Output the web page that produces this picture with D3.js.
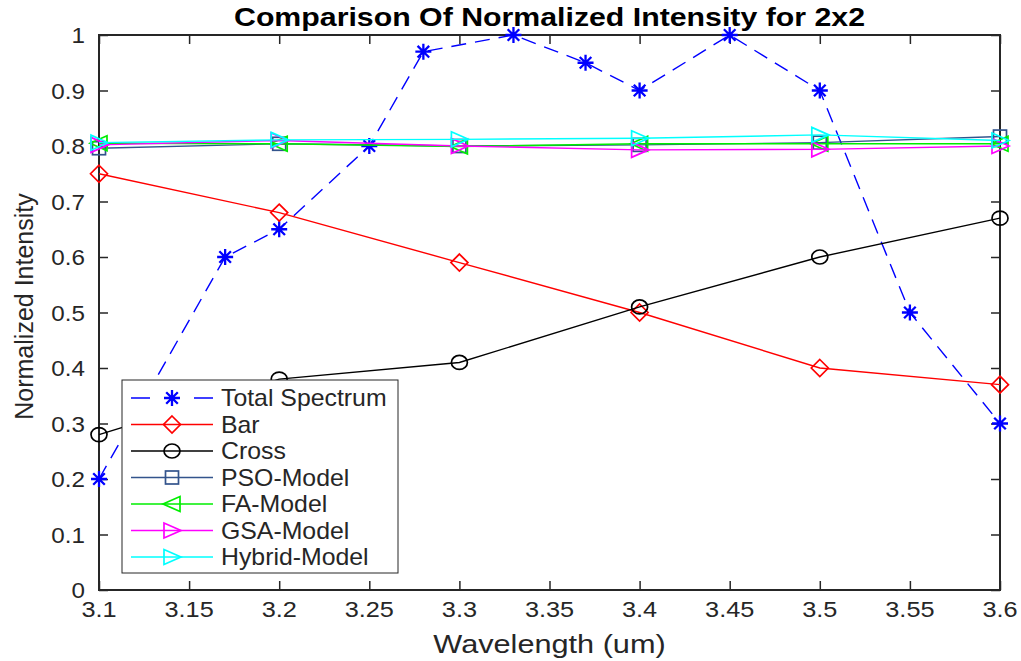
<!DOCTYPE html>
<html><head><meta charset="utf-8">
<script src="https://cdn.jsdelivr.net/npm/d3@7"></script>
<style>
body{margin:0;background:#fff;}
text{font-family:"Liberation Sans",Arial,Helvetica,sans-serif;fill:#262626;}
</style></head>
<body><svg id="c" width="1021" height="661"></svg>
<script>
// ---- data ----
const title = "Comparison Of Normalized Intensity for 2x2";
const xLabel = "Wavelength (um)";
const yLabel = "Normalized Intensity";
const xTicks = [3.1,3.15,3.2,3.25,3.3,3.35,3.4,3.45,3.5,3.55,3.6];
const yTicks = [0,0.1,0.2,0.3,0.4,0.5,0.6,0.7,0.8,0.9,1];
const totalX = [3.1,3.17,3.2,3.25,3.28,3.33,3.37,3.4,3.45,3.5,3.55,3.6];
const totalY = [0.2,0.6,0.65,0.8,0.97,1.0,0.95,0.9,1.0,0.9,0.5,0.3];
const modelX = [3.1,3.2,3.3,3.4,3.5,3.6];
const barY = [0.75,0.68,0.59,0.50,0.40,0.37];
const crossY = [0.28,0.38,0.41,0.51,0.60,0.67];
const psoY = [0.796,0.804,0.80,0.802,0.806,0.817];
const faY = [0.805,0.804,0.799,0.804,0.804,0.804];
const gsaY = [0.802,0.81,0.80,0.793,0.794,0.80];
const hybridY = [0.806,0.811,0.812,0.814,0.82,0.81];
const seriesNames = ["Total Spectrum","Bar","Cross","PSO-Model","FA-Model","GSA-Model","Hybrid-Model"];

// ---- layout ----
const L=99,R=1000,T=35,B=590;
const svg=d3.select("#c");
const x=d3.scaleLinear().domain([3.1,3.6]).range([L,R]);
const y=d3.scaleLinear().domain([0,1]).range([B,T]);
const axisCol="#262626";

const series=[
 {name:seriesNames[0],xs:totalX,ys:totalY,color:"#0000ff",marker:"star",dash:"15,9"},
 {name:seriesNames[1],xs:modelX,ys:barY,color:"#ff0000",marker:"diamond"},
 {name:seriesNames[2],xs:modelX,ys:crossY,color:"#000000",marker:"circle"},
 {name:seriesNames[3],xs:modelX,ys:psoY,color:"#33548c",marker:"square"},
 {name:seriesNames[4],xs:modelX,ys:faY,color:"#00ee00",marker:"left"},
 {name:seriesNames[5],xs:modelX,ys:gsaY,color:"#ff00ff",marker:"right"},
 {name:seriesNames[6],xs:modelX,ys:hybridY,color:"#00ffff",marker:"right"}
];

// stretched text helper (reference text is horizontally widened)
function stext(g,str,tx,ty,size,anchor,sx,opts={}){
  const t=g.append("text").attr("transform",`translate(${tx},${ty})${opts.rot?` rotate(${opts.rot})`:""} scale(${sx},1)`)
    .attr("text-anchor",anchor).attr("font-size",size).text(str);
  if(opts.bold) t.attr("font-weight","bold");
  if(opts.fill) t.style("fill",opts.fill);
  return t;
}

function drawMarker(g,type,cx,cy,color){
  if(type==="star"){
    const a=8,b=5.8;
    const p=`M${cx-a},${cy}L${cx+a},${cy}M${cx},${cy-a}L${cx},${cy+a}M${cx-b},${cy-b}L${cx+b},${cy+b}M${cx-b},${cy+b}L${cx+b},${cy-b}`;
    g.append("path").attr("d",p).attr("stroke",color).attr("stroke-width",2.3).attr("fill","none");
  } else if(type==="diamond"){
    const d=8.5;
    g.append("path").attr("d",`M${cx},${cy-d}L${cx+d},${cy}L${cx},${cy+d}L${cx-d},${cy}Z`).attr("stroke",color).attr("stroke-width",1.7).attr("fill","none");
  } else if(type==="circle"){
    g.append("ellipse").attr("cx",cx).attr("cy",cy).attr("rx",8).attr("ry",7).attr("stroke",color).attr("stroke-width",1.7).attr("fill","none");
  } else if(type==="square"){
    g.append("rect").attr("x",cx-6.5).attr("y",cy-6.5).attr("width",13).attr("height",13).attr("stroke",color).attr("stroke-width",1.7).attr("fill","none");
  } else if(type==="left"){
    g.append("path").attr("d",`M${cx-9},${cy}L${cx+8},${cy-7.5}L${cx+8},${cy+7.5}Z`).attr("stroke",color).attr("stroke-width",1.7).attr("fill","none");
  } else if(type==="right"){
    g.append("path").attr("d",`M${cx+9},${cy}L${cx-8},${cy-7.5}L${cx-8},${cy+7.5}Z`).attr("stroke",color).attr("stroke-width",1.7).attr("fill","none");
  }
}

// ---- axes box & ticks ----
const axG=svg.append("g");
const tl=9;
const xAxB=d3.axisBottom(x).tickValues(xTicks).tickSize(-tl).tickFormat("");
const xAxT=d3.axisTop(x).tickValues(xTicks).tickSize(-tl).tickFormat("");
const yAxL=d3.axisLeft(y).tickValues(yTicks).tickSize(-tl).tickFormat("");
const yAxR=d3.axisRight(y).tickValues(yTicks).tickSize(-tl).tickFormat("");
[[xAxB,`translate(0,${B})`],[xAxT,`translate(0,${T})`],[yAxL,`translate(${L},0)`],[yAxR,`translate(${R},0)`]].forEach(([a,t])=>{
  const g=axG.append("g").attr("transform",t).call(a);
  g.select(".domain").remove();
  g.selectAll("line").attr("stroke",axisCol).attr("stroke-width",1.5);
});
axG.append("rect").attr("x",L).attr("y",T).attr("width",R-L).attr("height",B-T).attr("fill","none").attr("stroke",axisCol).attr("stroke-width",2);

// tick labels
xTicks.forEach(d=>stext(axG,String(d),x(d),B+27,22,"middle",1.15));
yTicks.forEach(d=>stext(axG,String(d),L-14,y(d)+8,22,"end",1.1));

// labels
stext(svg,xLabel,(L+R)/2,653,26,"middle",1.18);
stext(svg,yLabel,33,(T+B)/2-6,25,"middle",1.0,{rot:-90});
stext(svg,title,(L+R)/2,26,26,"middle",1.165,{bold:true,fill:"#000"});

// ---- series ----
const plotG=svg.append("g");
series.forEach(s=>{
  const pts=s.xs.map((v,i)=>[x(v),y(s.ys[i])]);
  plotG.append("path").attr("d",d3.line()(pts)).attr("fill","none").attr("stroke",s.color).attr("stroke-width",1.4)
    .attr("stroke-dasharray",s.dash||null);
  const mg=plotG.append("g");
  pts.forEach(p=>drawMarker(mg,s.marker,p[0],p[1],s.color));
});

// ---- legend ----
const lgX=122,lgY=380,lgW=276,lgH=193;
const lg=svg.append("g");
lg.append("rect").attr("x",lgX).attr("y",lgY).attr("width",lgW).attr("height",lgH).attr("fill","#fff").attr("stroke",axisCol).attr("stroke-width",1);
series.forEach((s,i)=>{
  const cy=lgY+18+i*26.5;
  lg.append("line").attr("x1",lgX+9).attr("x2",lgX+91).attr("y1",cy).attr("y2",cy).attr("stroke",s.color).attr("stroke-width",1.4).attr("stroke-dasharray",s.dash?"19,44":null);
  drawMarker(lg,s.marker,lgX+50,cy,s.color);
  stext(lg,s.name,lgX+99,cy+8,23,"start",1.08);
});
</script></body></html>
